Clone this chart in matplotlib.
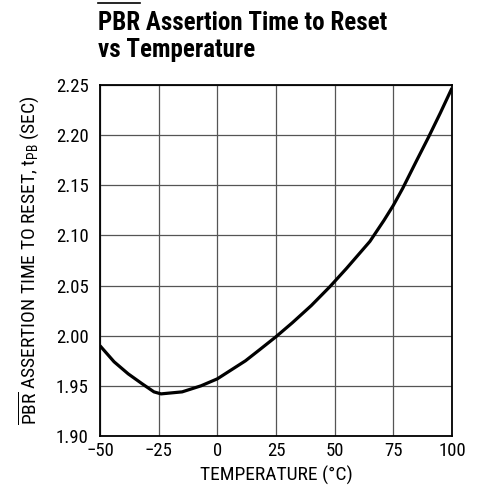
import matplotlib
matplotlib.use('Agg')
import matplotlib.pyplot as plt
from matplotlib import font_manager
from matplotlib.lines import Line2D

# data
temperature = [-50, -44, -38, -32, -27, -24, -15, -7, 0, 12, 18, 25, 32, 40,
               48, 55, 65, 71, 75, 79, 85, 90, 95, 100]
assert_time = [1.990, 1.974, 1.962, 1.952, 1.944, 1.942, 1.944, 1.950, 1.957,
               1.975, 1.986, 1.999, 2.013, 2.030, 2.049, 2.067, 2.094, 2.115,
               2.130, 2.147, 2.175, 2.198, 2.222, 2.247]

x_ticks = [-50, -25, 0, 25, 50, 75, 100]
x_tick_labels = ['\u221250', '\u221225', '0', '25', '50', '75', '100']
y_ticks = [1.90, 1.95, 2.00, 2.05, 2.10, 2.15, 2.20, 2.25]

# pick a condensed sans if there is one
family = 'Liberation Sans'
for name in ['Roboto Condensed', 'Liberation Sans Narrow', 'Arial Narrow', 'Open Sans Condensed']:
    try:
        font_manager.findfont(font_manager.FontProperties(family=name), fallback_to_default=False)
        family = name
        break
    except Exception:
        pass

plt.rcParams['font.family'] = [family, 'DejaVu Sans']
plt.rcParams['mathtext.fontset'] = 'custom'
plt.rcParams['mathtext.rm'] = family
plt.rcParams['mathtext.it'] = family
plt.rcParams['mathtext.bf'] = family + ':bold'

fig = plt.figure(figsize=(4.8, 4.94), dpi=100)
W, H = 480, 494
ax = fig.add_axes([100 / W, 1 - 436 / H, 352 / W, 351 / H])

ax.plot(temperature, assert_time, color='black', linewidth=2.3,
        solid_joinstyle='round', solid_capstyle='butt', zorder=3)

ax.set_xlim(-50, 100)
ax.set_ylim(1.90, 2.25)
ax.set_xticks(x_ticks)
ax.set_xticklabels(x_tick_labels)
ax.set_yticks(y_ticks)
ax.set_yticklabels([f'{v:.2f}' for v in y_ticks])
ax.tick_params(length=0, labelsize=13.5, pad=8)
ax.tick_params(axis='x', pad=4.5)
ax.grid(True, color='#555555', linewidth=0.9)
for s in ax.spines.values():
    s.set_linewidth(1.3)
    s.set_color('black')

ax.set_xlabel('TEMPERATURE (\u00b0C)', fontsize=14, labelpad=4)
ax.set_ylabel(r'$\overline{\mathrm{PBR}}$ ASSERTION TIME TO RESET, t$_{\mathrm{PB}}$ (SEC)',
              fontsize=14, labelpad=10)

# title with overline on PBR
fig.text(98 / W, 1 - 30 / H, 'PBR Assertion Time to Reset', fontsize=18,
         fontweight='bold', ha='left', va='baseline')
fig.text(98 / W, 1 - 57 / H, 'vs Temperature', fontsize=18,
         fontweight='bold', ha='left', va='baseline')
probe = fig.text(98 / W, 1 - 30 / H, 'PBR', fontsize=18, fontweight='bold',
                 ha='left', va='baseline', alpha=0)
fig.canvas.draw()
bb = probe.get_window_extent()
fig.add_artist(Line2D([bb.x0 / W, bb.x1 / W], [1 - 3 / H, 1 - 3 / H],
                      transform=fig.transFigure, color='black', linewidth=1.2))

fig.savefig('out.png', dpi=100)
